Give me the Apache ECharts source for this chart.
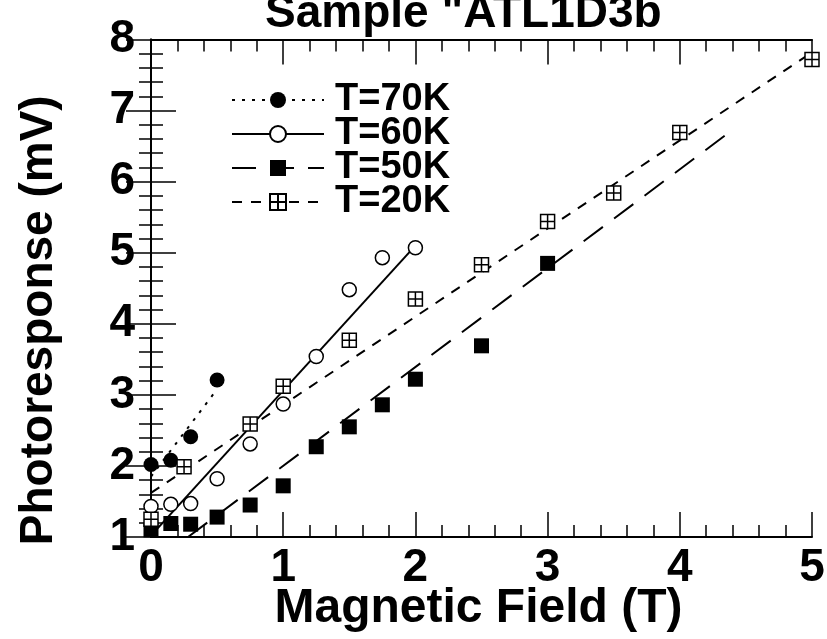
<!DOCTYPE html>
<html><head><meta charset="utf-8">
<script src="https://cdn.jsdelivr.net/npm/echarts@6/dist/echarts.min.js"></script>
<style>html,body{margin:0;padding:0;background:#fff}#c{width:827px;height:639px}</style>
</head><body><div id="c"></div>
<script>
// Data
const xT70 = [0, 0.15, 0.3, 0.5];
const yT70 = [2.02, 2.08, 2.41, 3.21];
const xT60 = [0, 0.15, 0.3, 0.5, 0.75, 1.0, 1.25, 1.5, 1.75, 2.0];
const yT60 = [1.43, 1.46, 1.47, 1.82, 2.31, 2.87, 3.54, 4.48, 4.93, 5.07];
const xT50 = [0, 0.15, 0.3, 0.5, 0.75, 1.0, 1.25, 1.5, 1.75, 2.0, 2.5, 3.0];
const yT50 = [1.1, 1.19, 1.18, 1.28, 1.45, 1.72, 2.27, 2.55, 2.86, 3.22, 3.69, 4.85];
const xT20 = [0, 0.25, 0.75, 1.0, 1.5, 2.0, 2.5, 3.0, 3.5, 4.0, 5.0];
const yT20 = [1.25, 1.99, 2.59, 3.12, 3.77, 4.35, 4.83, 5.44, 5.84, 6.69, 7.72];
// fit lines (end points)
const fitT70x = [0, 0.5],   fitT70y = [1.85, 3.08];
const fitT60x = [0, 2.0],   fitT60y = [1.02, 5.1];
const fitT50x = [0.28, 4.35], fitT50y = [1.0, 6.66];
const fitT20x = [0, 5.0],   fitT20y = [1.62, 7.82];
const legendNames = ['T=70K', 'T=60K', 'T=50K', 'T=20K'];
const xTicks = [0, 1, 2, 3, 4, 5];
const yTicks = [1, 2, 3, 4, 5, 6, 7, 8];

const pair = (xs, ys) => xs.map((x, i) => [x, ys[i]]);
const crossSq = 'path://M0,0L10,0L10,10L0,10Z M5,0L5,10 M0,5L10,5';

const styles = {
  'T=70K': {line: {type: [3, 7], width: 2}, symbol: 'circle', size: 15, item: {color: '#000', opacity: 1}},
  'T=60K': {line: {type: 'solid', width: 2}, symbol: 'circle', size: 14, item: {color: '#fff', borderColor: '#000', borderWidth: 1.5, opacity: 1}},
  'T=50K': {line: {type: [24, 14], width: 2}, symbol: 'rect', size: 15, item: {color: '#000', opacity: 1}},
  'T=20K': {line: {type: [10, 9], width: 2}, symbol: crossSq, size: 14, item: {color: '#fff', borderColor: '#000', borderWidth: 1.5, opacity: 1}}
};
const fits = {'T=70K': pair(fitT70x, fitT70y), 'T=60K': pair(fitT60x, fitT60y), 'T=50K': pair(fitT50x, fitT50y), 'T=20K': pair(fitT20x, fitT20y)};
const pts = {'T=70K': pair(xT70, yT70), 'T=60K': pair(xT60, yT60), 'T=50K': pair(xT50, yT50), 'T=20K': pair(xT20, yT20)};

const series = [];
legendNames.forEach(n => {
  const s = styles[n];
  series.push({name: n + ' fit', type: 'line', data: fits[n], showSymbol: false, silent: true,
    lineStyle: Object.assign({color: '#000'}, s.line), z: 2, animation: false});
});
['T=50K', 'T=70K', 'T=60K', 'T=20K'].forEach(n => {
  const s = styles[n];
  series.push({name: n + ' pts', type: 'scatter', data: pts[n], symbol: s.symbol, symbolSize: s.size,
    itemStyle: s.item, z: 3, animation: false});
});
legendNames.forEach(n => {
  const s = styles[n];
  series.push({name: n, type: 'line', data: [], symbol: s.symbol, symbolSize: s.size,
    lineStyle: Object.assign({color: '#000'}, s.line), itemStyle: s.item, animation: false});
});

const tickFont = {fontFamily: 'Liberation Sans', fontWeight: 'bold', fontSize: 46, color: '#000'};
const axLine = {show: true, lineStyle: {color: '#000', width: 2}};
const tickCommon = {
  axisLine: axLine,
  axisTick: {inside: true, length: 25, lineStyle: {color: '#000', width: 1.5}},
  minorTick: {show: true, splitNumber: 5, length: 12, lineStyle: {color: '#000', width: 1.5}},
  splitLine: {show: false}
};

const chart = echarts.init(document.getElementById('c'), null, {renderer: 'canvas'});
chart.setOption({
  backgroundColor: '#fff',
  animation: false,
  title: {text: 'Sample "ATL1D3b', left: 260, top: -14,
    textStyle: {fontFamily: 'Liberation Sans', fontWeight: 'bold', fontSize: 46, color: '#000'}},
  grid: {left: 151, right: 15, top: 39.5, bottom: 102, show: false, containLabel: false, outerBoundsMode: 'none'},
  legend: {data: legendNames, orient: 'vertical', left: 226, top: 76, itemWidth: 92, itemHeight: 20, itemGap: -4,
    textStyle: {fontFamily: 'Liberation Sans', fontWeight: 'bold', fontSize: 38, color: '#000', padding: [0, 0, 0, 6]}},
  xAxis: [Object.assign({type: 'value', min: xTicks[0], max: xTicks[xTicks.length - 1], interval: 1, position: 'bottom',
      name: 'Magnetic Field (T)', nameLocation: 'middle', nameGap: 48, nameMoveOverlap: false,
      nameTextStyle: {fontFamily: 'Liberation Sans', fontWeight: 'bold', fontSize: 48, color: '#000', padding: [0, 6, 0, 0]},
      axisLabel: Object.assign({margin: 8}, tickFont)}, tickCommon),
    Object.assign({type: 'value', min: 0, max: 5, interval: 1, position: 'top', axisLabel: {show: false}}, tickCommon)],
  yAxis: [Object.assign({type: 'value', min: yTicks[0], max: yTicks[yTicks.length - 1], interval: 1, position: 'left',
      name: 'Photoresponse (mV)', nameLocation: 'middle', nameGap: 89, nameMoveOverlap: false,
      nameTextStyle: {fontFamily: 'Liberation Sans', fontWeight: 'bold', fontSize: 46, color: '#000', padding: [0, 64, 0, 0]},
      axisLabel: Object.assign({margin: 16}, tickFont)}, tickCommon),
    Object.assign({type: 'value', min: 1, max: 8, interval: 1, position: 'right', axisLabel: {show: false}}, tickCommon)],
  series: series
});
</script></body></html>
